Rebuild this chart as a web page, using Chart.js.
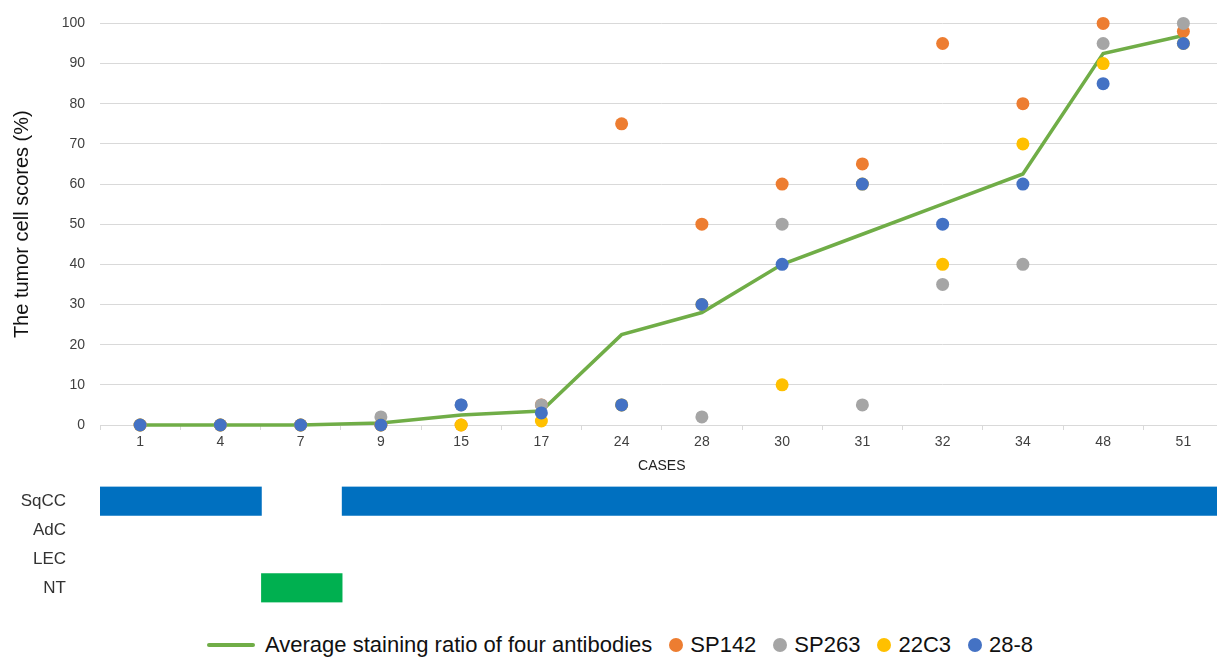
<!DOCTYPE html>
<html>
<head>
<meta charset="utf-8">
<script src="https://cdn.jsdelivr.net/npm/chart.js@4.4.1/dist/chart.umd.min.js"></script>
<style>
  html,body{margin:0;padding:0;background:#fff;overflow:hidden;width:1217px;height:658px;}
  .box{position:absolute;left:0;width:1230px;}
  .box canvas{display:block;}
  #legend{position:absolute;left:207px;top:632px;height:26px;display:flex;align-items:center;white-space:nowrap;
    font-family:"Liberation Sans",Arial,sans-serif;font-size:22px;color:#111;}
  #legend .it{display:flex;align-items:center;margin-right:17px;}
  #legend .ln{width:48px;height:4px;border-radius:2px;margin-right:10px;}
  #legend .dot{width:14px;height:14px;border-radius:50%;margin-right:7px;}
</style>
</head>
<body>
<div class="box" style="top:0;height:478px;"><canvas id="scores" style="width:1230px;height:478px;"></canvas></div>
<div class="box" style="top:470px;height:150px;"><canvas id="hist" style="width:1230px;height:150px;"></canvas></div>
<div id="legend"></div>
<script>
const cases   = ["1","4","7","9","15","17","24","28","30","31","32","34","48","51"];
const sp142   = [0,0,0,0,0,5,75,50,60,65,95,80,100,98];
const sp263   = [0,0,0,2,5,5,5,2,50,5,35,40,95,100];
const c22c3   = [0,0,0,0,0,1,5,30,10,60,40,70,90,95];
const c288    = [0,0,0,0,5,3,5,30,40,60,50,60,85,95];
const average = [0,0,0,0.5,2.5,3.5,22.5,28,40,47.5,55,62.5,92.5,97];
const yTicks  = [0,10,20,30,40,50,60,70,80,90,100];
const histTypes = ["SqCC","AdC","LEC","NT"];
const histology = ["SqCC","SqCC","NT","SqCC","SqCC","SqCC","SqCC","SqCC","SqCC","SqCC","SqCC","SqCC","SqCC","SqCC"];

const FONT = "'Liberation Sans', Arial, sans-serif";
const histColors = { SqCC:"#0070C0", AdC:"#ED7D31", LEC:"#A5A5A5", NT:"#00B050" };

function pts(label, data, color, order){
  return { type:"line", label, data, showLine:false, order, clip:false,
    pointRadius:6.5, pointHoverRadius:6.5, pointBackgroundColor:color, pointBorderWidth:0, borderColor:color, backgroundColor:color };
}

// order: highest drawn first, so the line sits under the dots and 28-8 on top
const datasets = [
  { type:"line", label:"Average staining ratio of four antibodies", data:average, borderColor:"#70AD47", backgroundColor:"#70AD47",
    borderWidth:3.5, pointRadius:0, tension:0, order:5, clip:false },
  pts("SP142", sp142, "#ED7D31", 4),
  pts("SP263", sp263, "#A5A5A5", 3),
  pts("22C3",  c22c3, "#FFC000", 2),
  pts("28-8",  c288,  "#4472C4", 1)
];

new Chart(document.getElementById("scores"), {
  type:"line",
  data:{ labels:cases, datasets },
  options:{
    responsive:false, maintainAspectRatio:false, animation:false,
    layout:{ padding:{ top:23, right:0, bottom:0, left:0 } },
    plugins:{ legend:{ display:false }, tooltip:{ enabled:false } },
    scales:{
      x:{
        offset:true,
        grid:{ offset:true, drawOnChartArea:false, drawTicks:true, tickLength:5, color:"#d9d9d9" },
        border:{ color:"#d9d9d9" },
        ticks:{ color:"#404040", font:{ family:FONT, size:14 }, padding:4, maxRotation:0, autoSkip:false },
        title:{ display:true, text:"CASES", color:"#222", font:{ family:FONT, size:14 }, padding:{ top:2, bottom:3 } },
        afterFit(s){ s.height = 53; }
      },
      y:{
        min:0, max:100,
        afterBuildTicks(s){ s.ticks = yTicks.map(v=>({ value:v })); },
        grid:{ color:"#d9d9d9", drawTicks:false },
        border:{ display:false },
        ticks:{ color:"#404040", font:{ family:FONT, size:14 }, padding:15 },
        title:{ display:true, text:"The tumor cell scores (%)", color:"#111", font:{ family:FONT, size:20 }, padding:{ top:10, bottom:0 } },
        afterFit(s){ s.width = 100; }
      }
    }
  }
});

// runs of consecutive cases with the same histology -> floating bars
const runs = [];
histology.forEach((h,i)=>{
  const last = runs[runs.length-1];
  if (last && last.type===h && last.end===i-1) last.end = i;
  else runs.push({ type:h, start:i, end:i });
});

new Chart(document.getElementById("hist"), {
  type:"bar",
  data:{
    labels:histTypes,
    datasets: runs.map(r=>({
      label:r.type,
      data: histTypes.map(t=> t===r.type ? [r.start-0.5, r.end+0.5] : null),
      backgroundColor:histColors[r.type], borderWidth:0,
      barPercentage:1, categoryPercentage:1, grouped:false
    }))
  },
  options:{
    indexAxis:"y", responsive:false, maintainAspectRatio:false, animation:false,
    layout:{ padding:{ top:16.5, right:0, bottom:17.5, left:0 } },
    plugins:{ legend:{ display:false }, tooltip:{ enabled:false } },
    scales:{
      x:{ display:false, min:-0.5, max:cases.length-0.5 },
      y:{
        // invisible tick marks push the labels left without adding top/bottom padding
        grid:{ display:true, drawOnChartArea:false, drawTicks:true, tickLength:34, color:"rgba(0,0,0,0)" },
        border:{ display:false },
        ticks:{ color:"#333", font:{ family:FONT, size:17 }, padding:0 },
        afterFit(s){ s.width = 100; }
      }
    }
  }
});

// legend
const leg = document.getElementById("legend");
datasets.forEach(d=>{
  const it = document.createElement("div"); it.className = "it";
  const sw = document.createElement("div");
  sw.className = d.showLine===false ? "dot" : "ln";
  sw.style.background = d.borderColor;
  const tx = document.createElement("span"); tx.textContent = d.label;
  it.appendChild(sw); it.appendChild(tx); leg.appendChild(it);
});
</script>
</body>
</html>
